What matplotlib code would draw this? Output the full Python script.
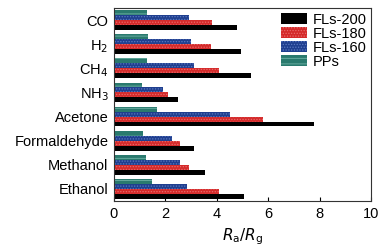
import numpy as np
import matplotlib.pyplot as plt

plt.rcParams['font.family'] = ['Liberation Sans', 'DejaVu Sans']
plt.rcParams['hatch.linewidth'] = 0.6

gases = ['CO', 'H$_2$', 'CH$_4$', 'NH$_3$', 'Acetone', 'Formaldehyde', 'Methanol', 'Ethanol']
fls200 = [4.77, 4.93, 5.32, 2.50, 7.79, 3.11, 3.54, 5.07]
fls180 = [3.80, 3.76, 4.09, 2.10, 5.81, 2.57, 2.93, 4.09]
fls160 = [2.90, 2.98, 3.11, 1.90, 4.51, 2.24, 2.58, 2.83]
pps = [1.28, 1.32, 1.27, 1.08, 1.66, 1.14, 1.23, 1.47]

fig = plt.figure(figsize=(3.9, 2.52), dpi=100)
ax = fig.add_axes([114 / 390, 1 - 201 / 252, 257 / 390, 193 / 252])

y = np.arange(len(gases))
h = 0.205
series = [
    (fls200, 'FLs-200', 'black', 'black', None),
    (fls180, 'FLs-180', '#d42a2a', '#e86a6a', '......'),
    (fls160, 'FLs-160', '#1f3f8f', '#5a78c0', '......'),
    (pps, 'PPs', '#2a7a6e', '#6fb2a6', '---'),
]
offsets = [1.5 * h, 0.5 * h, -0.5 * h, -1.5 * h]
for (vals, name, fc, ec, hatch), off in zip(series, offsets):
    ax.barh(y + off, vals, height=h, color=fc, edgecolor=ec, hatch=hatch,
            linewidth=0, label=name)

ax.set_xlim(0, 10)
ax.set_ylim(len(gases) - 0.5, -0.5)
ax.set_yticks(y)
ax.set_yticklabels(gases, fontsize=10.5)
ax.set_xticks([0, 2, 4, 6, 8, 10])
ax.tick_params(axis='x', direction='in', length=3, labelsize=10.5, pad=4)
ax.tick_params(axis='y', length=0, pad=4)
ax.set_xlabel('$R_\\mathrm{a}/R_\\mathrm{g}$', fontsize=11, labelpad=4)
for s in ax.spines.values():
    s.set_linewidth(0.8)
    s.set_color('#333333')

ax.legend(loc='upper left', bbox_to_anchor=(0.65, 0.975), fontsize=10.5,
          frameon=False, handlelength=1.8, handleheight=0.75,
          labelspacing=0.0, handletextpad=0.35, borderpad=0,
          borderaxespad=0)

fig.savefig('out.png', dpi=100)
